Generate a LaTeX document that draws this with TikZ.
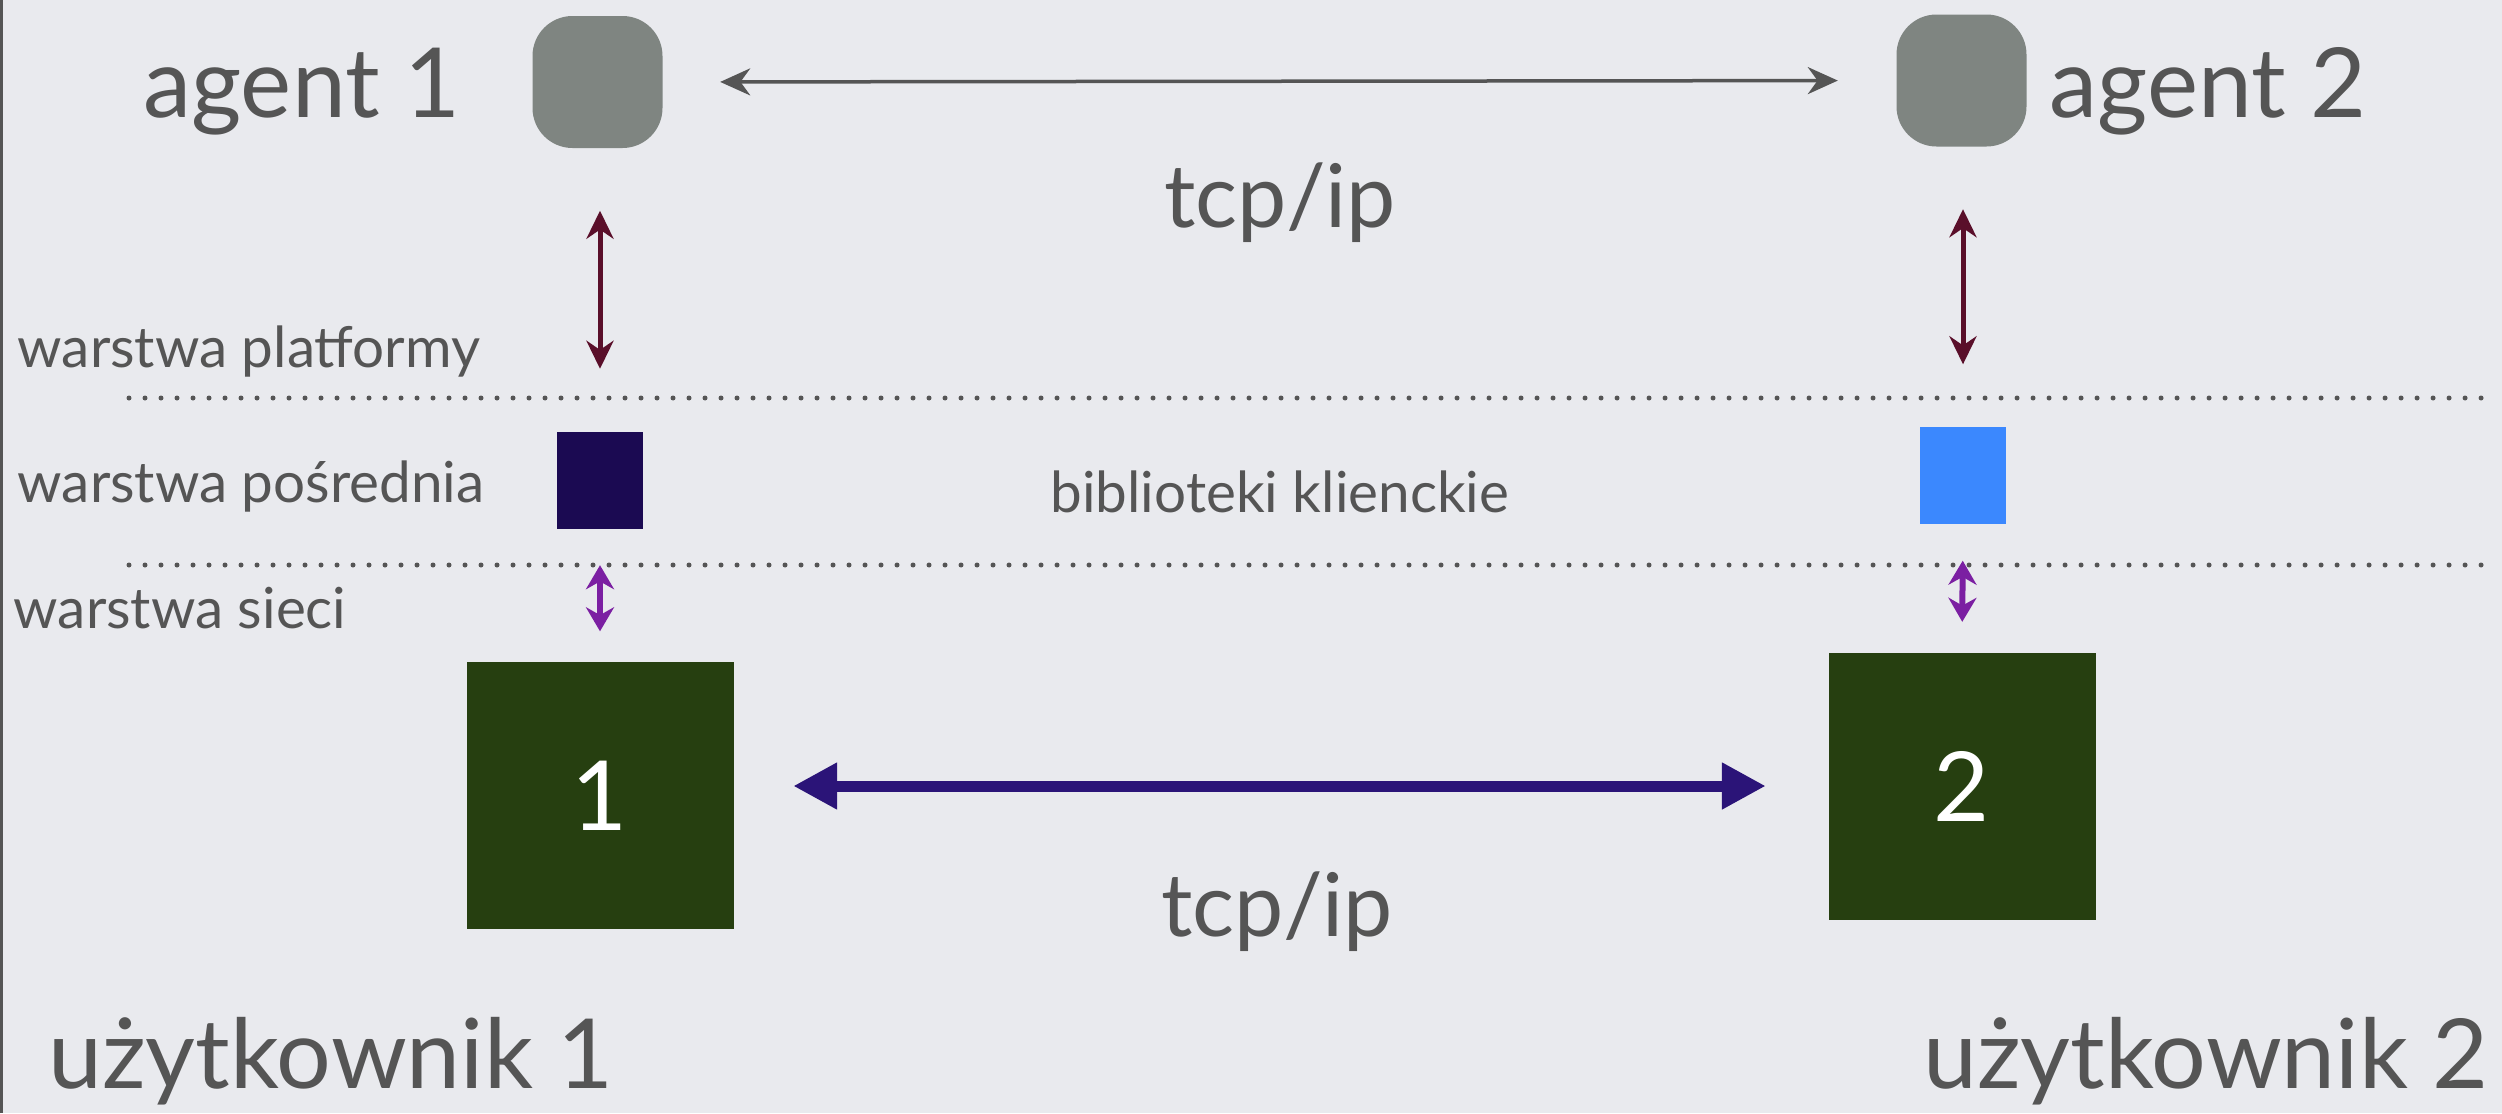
\documentclass[tikz,border=0pt]{standalone}
\usepackage{fontspec}
\setmainfont{Lato}
\usetikzlibrary{arrows.meta}

\definecolor{bggray}{HTML}{E9EAEE}
\definecolor{textgray}{HTML}{555555}
\definecolor{agentgray}{HTML}{7F8581}
\definecolor{platred}{HTML}{5A0F2A}
\definecolor{midnavy}{HTML}{1B0A52}
\definecolor{midblue}{HTML}{3B88FE}
\definecolor{netpurple}{HTML}{7B1FA2}
\definecolor{usergreen}{HTML}{263F10}
\definecolor{linkblue}{HTML}{2B1478}

\newcommand\hugetxt{\fontsize{27.5}{30}\selectfont}
\newcommand\midtxt{\fontsize{25}{28}\selectfont}
\newcommand\smalltxt{\fontsize{16.1}{18}\selectfont}

\begin{document}
\begin{tikzpicture}[
    txt/.style={inner sep=0pt, text=textgray},
    agentbox/.style={fill=agentgray, rounded corners=0.4cm, minimum width=1.3cm, minimum height=1.32cm, inner sep=0pt},
    libbox/.style={minimum width=0.86cm, minimum height=0.97cm, inner sep=0pt},
    userbox/.style={fill=usergreen, minimum size=2.67cm, inner sep=0pt, text=white, font=\hugetxt},
    layerline/.style={textgray, line width=0.05cm, line cap=round, dash pattern=on 0pt off 0.16cm},
    agentlink/.style={textgray, line width=0.035cm, {Stealth[length=0.3cm, width=0.27cm]}-{Stealth[length=0.3cm, width=0.27cm]}, shorten <=0.57cm, shorten >=0.58cm},
    platlink/.style={platred, line width=0.05cm, {Stealth[length=0.28cm, width=0.27cm]}-{Stealth[length=0.28cm, width=0.27cm]}, shorten <=0.62cm, shorten >=0.62cm},
    netlink/.style={netpurple, line width=0.06cm, {Stealth[length=0.24cm, width=0.28cm]}-{Stealth[length=0.24cm, width=0.28cm]}, shorten <=0.36cm, shorten >=0.3cm},
    userlink/.style={linkblue, line width=0.11cm, {Triangle[length=0.44cm, width=0.44cm]}-{Triangle[length=0.44cm, width=0.44cm]}, shorten <=0.59cm, shorten >=0.62cm}
  ]
  % tlo
  \fill[bggray] (0,0) rectangle (25.02,11.13);
  \useasboundingbox (0,0) rectangle (25.02,11.13);
  \draw[textgray, line width=0.03cm] (0.015,0) -- (0.015,11.13);

  % agenci
  \node[agentbox] (ag1) at (5.975, 10.31) {};
  \node[agentbox] (ag2) at (19.615, 10.325) {};
  \node[txt, anchor=base, font=\hugetxt] (ag1lbl) at (3.02, 9.96) {agent 1};
  \node[txt, anchor=base, font=\hugetxt] (ag2lbl) at (22.08, 9.96) {agent 2};
  \node[txt, anchor=base, font=\midtxt] (tcptop) at (12.8, 8.86) {tcp/ip};

  % warstwy
  \node[txt, anchor=base west, font=\smalltxt] (lplat) at (0.17, 7.46) {warstwa platformy};
  \node[txt, anchor=base west, font=\smalltxt] (lmid) at (0.17, 6.11) {warstwa pośrednia};
  \node[txt, anchor=base west, font=\smalltxt] (lnet) at (0.13, 4.85) {warstwa sieci};
  \draw[layerline] (1.29, 7.15) -- (24.95, 7.15);
  \draw[layerline] (1.29, 5.48) -- (24.95, 5.48);
  \node[libbox, fill=midnavy] (mw1) at (6.0, 6.33) {};
  \node[libbox, fill=midblue] (mw2) at (19.63, 6.375) {};
  \node[txt, anchor=base, font=\smalltxt] (libs) at (12.8, 6.01) {biblioteki klienckie};

  % uzytkownicy
  \node[userbox] (u1) at (6.0, 3.175) {1};
  \node[userbox] (u2) at (19.62, 3.27) {2};
  \node[txt, anchor=base, font=\midtxt] (tcpbot) at (12.77, 1.77) {tcp/ip};
  \node[txt, anchor=base, font=\hugetxt] (u1lbl) at (3.31, 0.25) {użytkownik 1};
  \node[txt, anchor=base, font=\hugetxt] (u2lbl) at (22.06, 0.25) {użytkownik 2};

  % polaczenia
  \draw[agentlink] (ag1.east) -- (ag2.west);
  \draw[platlink] (ag1.south -| mw1.north) -- (mw1.north);
  \draw[platlink] (ag2.south -| mw2.north) -- (mw2.north);
  \draw[netlink] (mw1.south) -- (u1.north);
  \draw[netlink] (mw2.south) -- (u2.north);
  \draw[userlink] (u2.west -| u1.east) -- (u2.west);
\end{tikzpicture}
\end{document}
